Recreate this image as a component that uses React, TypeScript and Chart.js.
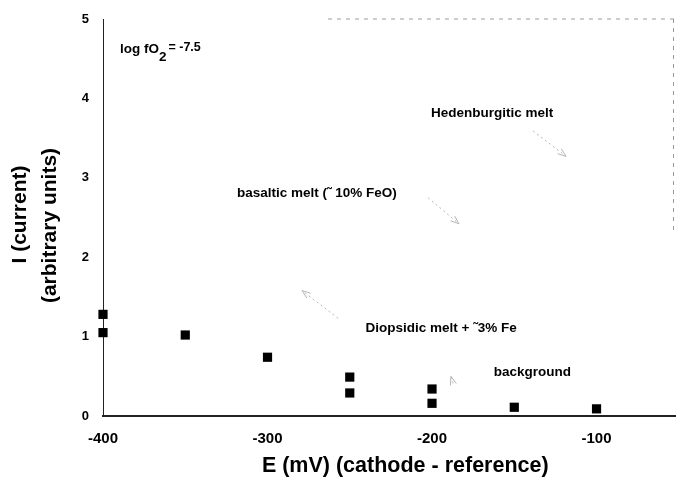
import React, { useEffect, useRef } from "react";
import { Chart, registerables } from "chart.js";

Chart.register(...registerables);

// Measured points: E (mV) vs I (arbitrary units)
const potentials = [-400, -400, -350, -300, -250, -250, -200, -200, -150, -100];
const currents = [1.28, 1.05, 1.02, 0.74, 0.49, 0.29, 0.34, 0.16, 0.11, 0.09];

const xTicks = [-400, -300, -200, -100];
const yTicks = [0, 1, 2, 3, 4, 5];

const xTitle = "E (mV) (cathode - reference)";
const yTitleLines = ["I (current)", "(arbitrary units)"];

// Text annotations (data coordinates)
const labelTexts = ["Hedenburgitic melt", "basaltic melt (˜ 10% FeO)", "Diopsidic melt + ˜3% Fe", "background"];
const labelX = [-163.5, -270, -194.5, -139];
const labelY = [3.81, 2.8, 1.11, 0.55];

// Faint arrows (data coordinates)
const arrowX0 = [-138.6, -202.4, -257.1, -187.2];
const arrowY0 = [3.59, 2.75, 1.23, 0.41];
const arrowX1 = [-118.5, -183.6, -279, -188.5];
const arrowY1 = [3.27, 2.42, 1.58, 0.5];

const FONT = "'Liberation Sans', Arial, Helvetica, sans-serif";

const overlayPlugin = {
  id: "overlay",
  afterDatasetsDraw(chart: any) {
    const { ctx, chartArea, scales } = chart;
    const xs = scales.x;
    const ys = scales.y;
    ctx.save();
    // faint dashed frame on top and right
    ctx.strokeStyle = "#9a9a9a";
    ctx.lineWidth = 1;
    ctx.setLineDash([4, 5]);
    ctx.beginPath();
    ctx.moveTo(chartArea.left + 225, chartArea.top);
    ctx.lineTo(chartArea.right, chartArea.top);
    ctx.moveTo(chartArea.right - 2, chartArea.top);
    ctx.lineTo(chartArea.right - 2, ys.getPixelForValue(2.3));
    ctx.stroke();

    // arrows
    ctx.strokeStyle = "#b5b5b5";
    ctx.setLineDash([2, 3]);
    for (let i = 0; i < arrowX0.length; i++) {
      const x0 = xs.getPixelForValue(arrowX0[i]);
      const y0 = ys.getPixelForValue(arrowY0[i]);
      const x1 = xs.getPixelForValue(arrowX1[i]);
      const y1 = ys.getPixelForValue(arrowY1[i]);
      ctx.beginPath();
      ctx.moveTo(x0, y0);
      ctx.lineTo(x1, y1);
      ctx.stroke();
      const ang = Math.atan2(y1 - y0, x1 - x0);
      const h = 9;
      ctx.setLineDash([]);
      ctx.beginPath();
      ctx.moveTo(x1 - h * Math.cos(ang - 0.35), y1 - h * Math.sin(ang - 0.35));
      ctx.lineTo(x1, y1);
      ctx.lineTo(x1 - h * Math.cos(ang + 0.35), y1 - h * Math.sin(ang + 0.35));
      ctx.stroke();
      ctx.setLineDash([2, 3]);
    }
    ctx.setLineDash([]);

    // labels
    ctx.fillStyle = "#000";
    ctx.font = `bold 13.5px ${FONT}`;
    ctx.textAlign = "center";
    ctx.textBaseline = "middle";
    for (let i = 0; i < labelTexts.length; i++) {
      ctx.fillText(labelTexts[i], xs.getPixelForValue(labelX[i]), ys.getPixelForValue(labelY[i]));
    }

    // log fO2 = -7.5 with subscript
    ctx.textAlign = "left";
    let px = xs.getPixelForValue(-389.7);
    const py = ys.getPixelForValue(4.62);
    const a = "log fO";
    ctx.fillText(a, px, py);
    px += ctx.measureText(a).width;
    ctx.fillText("2", px, py + 8);
    px += ctx.measureText("2").width + 2;
    ctx.font = `bold 12.5px ${FONT}`;
    ctx.fillText("= -7.5", px, py - 2);

    // axis titles
    ctx.textAlign = "center";
    ctx.font = `bold 21.5px ${FONT}`;
    ctx.fillText(xTitle, (chartArea.left + chartArea.right) / 2 + 16, chartArea.bottom + 50);
    ctx.font = `bold 21px ${FONT}`;
    const cy = (chartArea.top + chartArea.bottom) / 2;
    const lineX = [20, 50];
    const lineDy = [-3, 8];
    for (let i = 0; i < yTitleLines.length; i++) {
      ctx.save();
      ctx.translate(lineX[i], cy + lineDy[i]);
      ctx.rotate(-Math.PI / 2);
      ctx.fillText(yTitleLines[i], 0, 0);
      ctx.restore();
    }
    ctx.restore();
  },
};

export default function App() {
  const ref = useRef<HTMLCanvasElement>(null);
  useEffect(() => {
    if (!ref.current) return;
    const chart = new Chart(ref.current, {
      type: "scatter",
      data: {
        datasets: [
          {
            data: potentials.map((x, i) => ({ x, y: currents[i] })),
            pointStyle: "rect",
            radius: 6.5,
            backgroundColor: "#000",
            borderColor: "#000",
            borderWidth: 0,
            clip: false,
          },
        ],
      },
      options: {
        animation: false,
        responsive: false,
        layout: { padding: { top: 19, right: 1, left: 0, bottom: 0 } },
        plugins: { legend: { display: false }, tooltip: { enabled: false } },
        scales: {
          x: {
            type: "linear",
            min: -400,
            max: -52,
            afterBuildTicks: (s: any) => {
              s.ticks = xTicks.map((v) => ({ value: v }));
            },
            afterFit: (s: any) => {
              s.height = 63;
              s.paddingLeft = 0;
              s.paddingRight = 0;
            },
            grid: { display: false, drawTicks: false },
            border: { display: true, color: "#222", width: 2 },
            ticks: {
              color: "#000",
              padding: 14,
              font: { family: FONT, size: 15, weight: "bold" },
            },
            title: { display: false },
          },
          y: {
            type: "linear",
            min: 0,
            max: 5,
            afterBuildTicks: (s: any) => {
              s.ticks = yTicks.map((v) => ({ value: v }));
            },
            afterFit: (s: any) => {
              s.width = 103;
              s.paddingTop = 0;
              s.paddingBottom = 0;
            },
            grid: { display: false, drawTicks: false },
            border: { display: true, color: "#222", width: 1 },
            ticks: {
              color: "#000",
              padding: 14,
              font: { family: FONT, size: 13, weight: "bold" },
            },
            title: { display: false },
          },
        },
      },
      plugins: [overlayPlugin],
    });
    return () => chart.destroy();
  }, []);
  return (
    <div style={{ position: "fixed", left: 0, top: 0, width: 676, height: 479, overflow: "hidden", background: "#fff" }}>
      <canvas ref={ref} width={682} height={479} style={{ display: "block" }} />
    </div>
  );
}
